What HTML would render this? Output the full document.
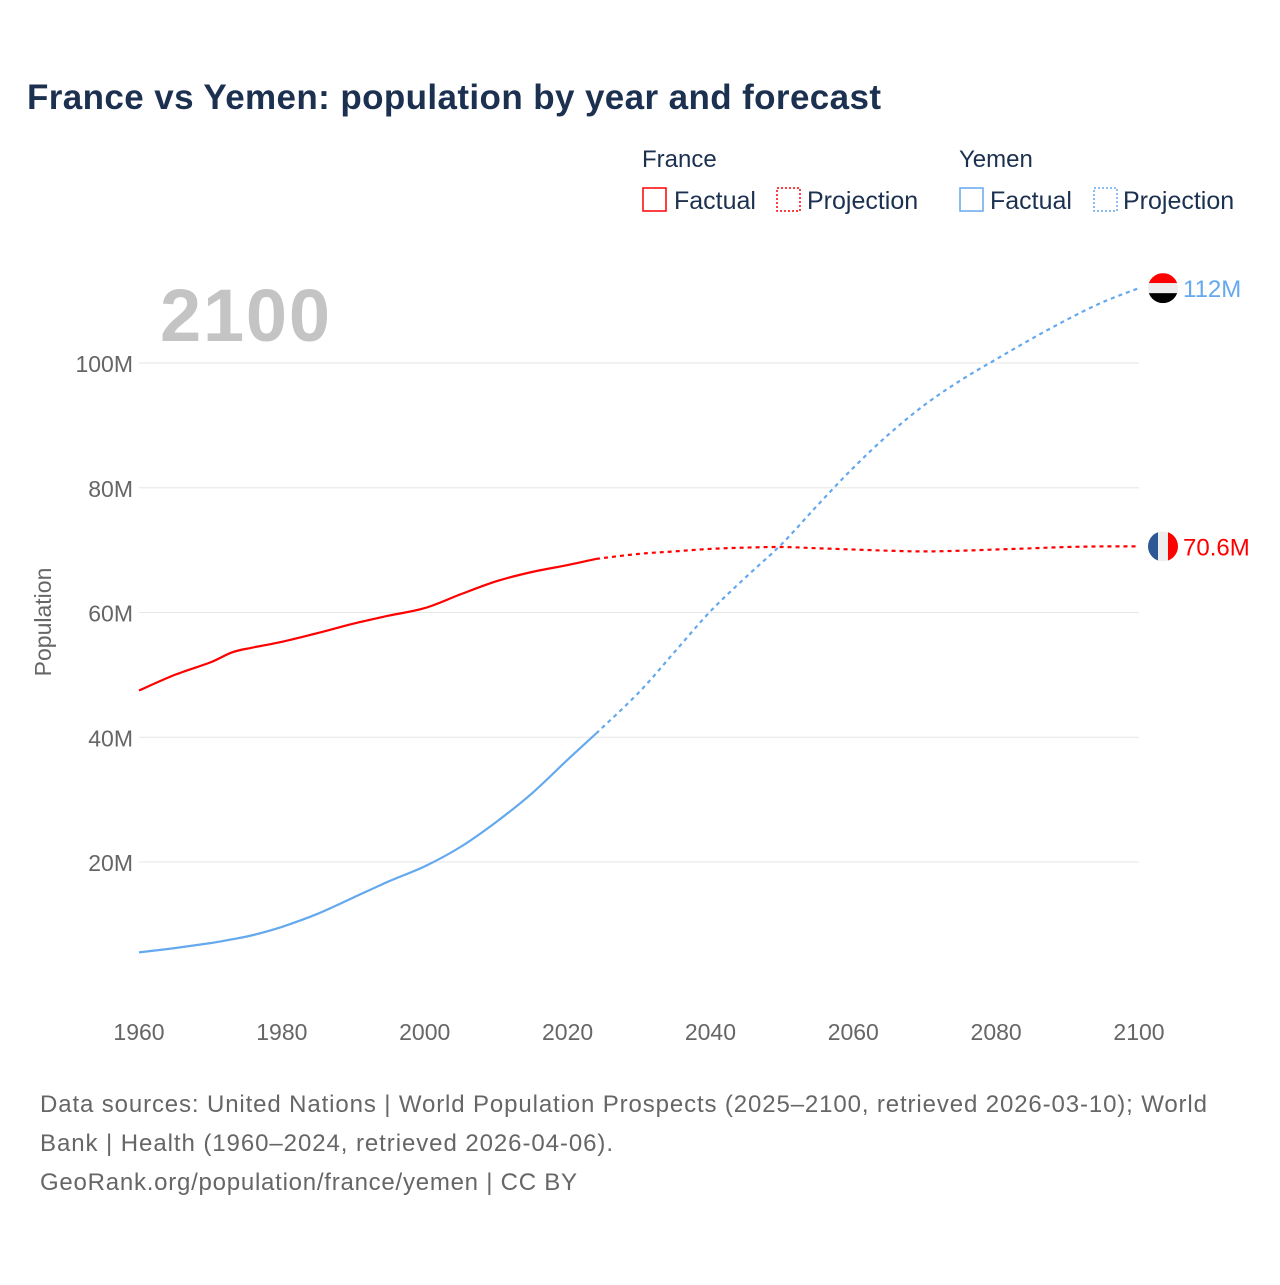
<!DOCTYPE html>
<html><head><meta charset="utf-8"><style>
body{margin:0;background:#fff;font-family:"Liberation Sans",sans-serif;}
svg text{font-family:"Liberation Sans",sans-serif;}
</style></head><body>
<svg id="c" width="1280" height="1280" viewBox="0 0 1280 1280">
<text x="27" y="109" font-size="35" font-weight="bold" fill="#1c3050" textLength="854">France vs Yemen: population by year and forecast</text>
<g>
<text x="642" y="167" font-size="24" fill="#1c3050">France</text>
<rect x="643" y="188" width="23" height="23" fill="none" stroke="#f00" stroke-width="1.5"/>
<text x="674" y="209" font-size="25" fill="#1c3050">Factual</text>
<rect x="777" y="188" width="23" height="23" fill="none" stroke="#f00" stroke-width="1.5" stroke-dasharray="2,2"/>
<text x="807" y="209" font-size="25" fill="#1c3050">Projection</text>
<text x="959" y="167" font-size="24" fill="#1c3050">Yemen</text>
<rect x="960" y="188" width="23" height="23" fill="none" stroke="#64a8ee" stroke-width="1.5"/>
<text x="990" y="209" font-size="25" fill="#1c3050">Factual</text>
<rect x="1094" y="188" width="23" height="23" fill="none" stroke="#64a8ee" stroke-width="1.5" stroke-dasharray="2,2"/>
<text x="1123" y="209" font-size="25" fill="#1c3050">Projection</text>
</g>
<text x="160" y="341" font-size="74" font-weight="bold" fill="#c4c4c4" textLength="170">2100</text>
<text transform="translate(51,622) rotate(-90)" text-anchor="middle" font-size="23" fill="#666">Population</text>
<g id="grid"></g><g id="lines"></g><g id="ends"></g>
<text x="40" y="1112" font-size="24" fill="#666" textLength="1167">Data sources: United Nations | World Population Prospects (2025–2100, retrieved 2026-03-10); World</text>
<text x="40" y="1151" font-size="24" fill="#666" textLength="573">Bank | Health (1960–2024, retrieved 2026-04-06).</text>
<text x="40" y="1190" font-size="24" fill="#666" textLength="537">GeoRank.org/population/france/yemen | CC BY</text>
</svg>
<script>
const yTicks=[20,40,60,80,100];
const xTicks=[1960,1980,2000,2020,2040,2060,2080,2100];
const factYears=[1960,1965,1970,1973,1976,1980,1985,1990,1995,2000,2005,2010,2015,2020,2024];
const franceFact=[47.5,50.0,52.0,53.6,54.4,55.3,56.7,58.2,59.5,60.7,62.9,65.0,66.5,67.6,68.6];
const yemenFact=[5.5,6.2,7.0,7.6,8.3,9.6,11.7,14.3,16.9,19.3,22.4,26.4,31.0,36.4,40.6];
const projYears=[2024,2030,2035,2040,2045,2050,2055,2060,2065,2070,2075,2080,2085,2090,2095,2100];
const franceProj=[68.6,69.4,69.8,70.2,70.4,70.5,70.3,70.1,69.9,69.8,69.9,70.1,70.3,70.5,70.6,70.6];
const yemenProj=[40.6,47.2,53.7,60.2,65.7,71.0,77.2,83.2,88.6,93.3,97.2,100.6,103.9,107.0,109.8,112.0];
const NS="http://www.w3.org/2000/svg";
const X=y=>139+(y-1960)*1000/140;
const Y=v=>986.75-v*6.2375;
function mk(t,a,p){const e=document.createElementNS(NS,t);for(const k in a)e.setAttribute(k,a[k]);p.appendChild(e);return e;}
const grid=document.getElementById('grid'),lines=document.getElementById('lines'),ends=document.getElementById('ends');
yTicks.forEach(v=>{
const l=mk('line',{x1:139,x2:1139,y1:Y(v),y2:Y(v),stroke:'#e6e6e6','stroke-width':1},grid);


const t=mk('text',{x:133,y:Y(v)+9,'text-anchor':'end','font-size':23,fill:'#666'},grid);t.textContent=v+'M';


});
xTicks.forEach(v=>{
const t=mk('text',{x:X(v),y:1040,'text-anchor':'middle','font-size':23,fill:'#666'},grid);t.textContent=v;


});
function path(xs,vs){
const P=xs.map((x,i)=>[X(x),Y(vs[i])]);
let d='M'+P[0][0].toFixed(1)+','+P[0][1].toFixed(1);
for(let i=0;i<P.length-1;i++){
const p0=P[Math.max(0,i-1)],p1=P[i],p2=P[i+1],p3=P[Math.min(P.length-1,i+2)];
const c1=[p1[0]+(p2[0]-p0[0])/6,p1[1]+(p2[1]-p0[1])/6];
const c2=[p2[0]-(p3[0]-p1[0])/6,p2[1]-(p3[1]-p1[1])/6];
d+='C'+c1.map(v=>v.toFixed(1))+' '+c2.map(v=>v.toFixed(1))+' '+p2.map(v=>v.toFixed(1));
}
return d;}
function line(xs,vs,c,dash,name){
const p=mk('path',{d:path(xs,vs),fill:'none',stroke:c,'stroke-width':2.2},lines);
if(dash)p.setAttribute('stroke-dasharray','4,4');


}
line(factYears,franceFact,'#f00',false,'france-factual-line');
line(projYears,franceProj,'#f00',true,'france-projection-line');
line(factYears,yemenFact,'#64a8ee',false,'yemen-factual-line');
line(projYears,yemenProj,'#64a8ee',true,'yemen-projection-line');
function flag(cy,type,val,c,name){
const cx=1163,r=15;
const g=mk('g',{},ends);


const id='clip'+name;
const cp=mk('clipPath',{id:id},g);mk('circle',{cx:cx,cy:cy,r:r},cp);
const gg=mk('g',{'clip-path':'url(#'+id+')'},g);
if(type==='ye'){['#f00','#eee','#000'].forEach((f,i)=>mk('rect',{x:cx-r,y:cy-r+i*10,width:30,height:10,fill:f},gg));}
else{['#2c5894','#eee','#f00'].forEach((f,i)=>mk('rect',{x:cx-r+i*10,y:cy-r,width:10,height:30,fill:f},gg));}
const t=mk('text',{x:1183,y:cy+9,'font-size':24,fill:c},ends);t.textContent=val;


}
flag(Y(yemenProj[yemenProj.length-1]),'ye','112M','#64a8ee','yemen');
flag(Y(franceProj[franceProj.length-1]),'fr','70.6M','#f00','france');
</script>
</body></html>
